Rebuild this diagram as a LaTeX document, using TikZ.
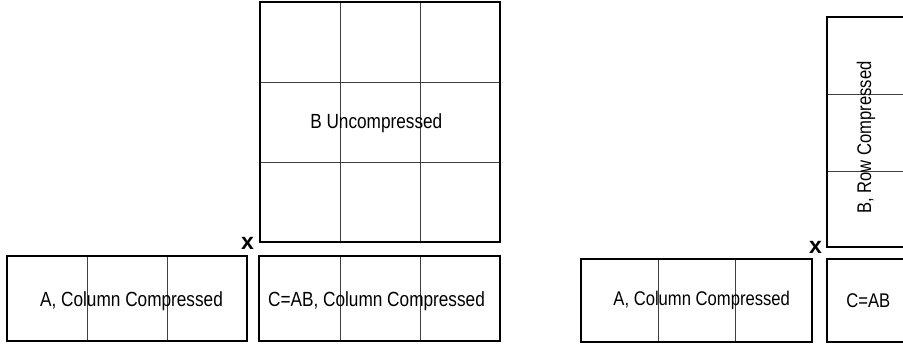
\documentclass[tikz,border=0pt]{standalone}
\usepackage{fontspec}
\setmainfont{Liberation Sans}[FakeStretch=0.84]
\newfontfamily\xfont{Liberation Sans}[BoldFont={Liberation Sans Bold}]
\begin{document}
\begin{tikzpicture}[x=1pt,y=-1pt,
  outer/.style={draw=black,line width=1.4pt,fill=none},
  inner/.style={draw=black!75,line width=0.8pt},
  lbl/.style={inner sep=0pt,font=\fontsize{20.5}{23}\selectfont},
  lblr/.style={inner sep=0pt,font=\fontsize{19.8}{22}\selectfont},
  times/.style={inner sep=0pt,font=\xfont\bfseries\fontsize{23}{25}\selectfont}]
\clip (0,0) rectangle (903,345);
% ---------- left panel ----------
% A
\coordinate (a1) at (7,256); \coordinate (a2) at (247,341);
\draw[inner] (87,256) -- (87,341) (167,256) -- (167,341);
\draw[outer] (a1) rectangle (a2);
\node[lbl] (atxt) at (131.5,301) {A, Column Compressed};
% C
\coordinate (c1) at (259,256); \coordinate (c2) at (500,341);
\draw[inner] (340,256) -- (340,341) (420,256) -- (420,341);
\draw[outer] (c1) rectangle (c2);
\node[lbl] (ctxt) at (376.5,301) {C=AB, Column Compressed};
% B
\coordinate (b1) at (260,2); \coordinate (b2) at (500,242);
\draw[inner] (260,82) -- (500,82) (260,162) -- (500,162)
             (340,2) -- (340,242) (420,2) -- (420,242);
\draw[outer] (b1) rectangle (b2);
\node[lbl] (btxt) at (376.3,123) {B Uncompressed};
\node[times,anchor=base] (x1) at (247.5,249) {x};
% ---------- right panel ----------
% A
\coordinate (ra1) at (581,259); \coordinate (ra2) at (812,342);
\draw[inner] (658,259) -- (658,342) (735,259) -- (735,342);
\draw[outer] (ra1) rectangle (ra2);
\node[lblr] (ratxt) at (701.7,300.5) {A, Column Compressed};
% B row compressed
\coordinate (rb1) at (827,17); \coordinate (rb2) at (1058,247);
\draw[inner] (827,94) -- (1058,94) (827,171) -- (1058,171);
\draw[outer] (rb1) rectangle (rb2);
\node[lblr,rotate=90] (rbtxt) at (866,137.5) {B, Row Compressed};
% C
\coordinate (rc1) at (827,259); \coordinate (rc2) at (1058,342);
\draw[outer] (rc1) rectangle (rc2);
\node[lblr] (rctxt) at (868.3,301) {C=AB};
\node[times,anchor=base] (x2) at (815.5,253) {x};
\end{tikzpicture}
\end{document}
